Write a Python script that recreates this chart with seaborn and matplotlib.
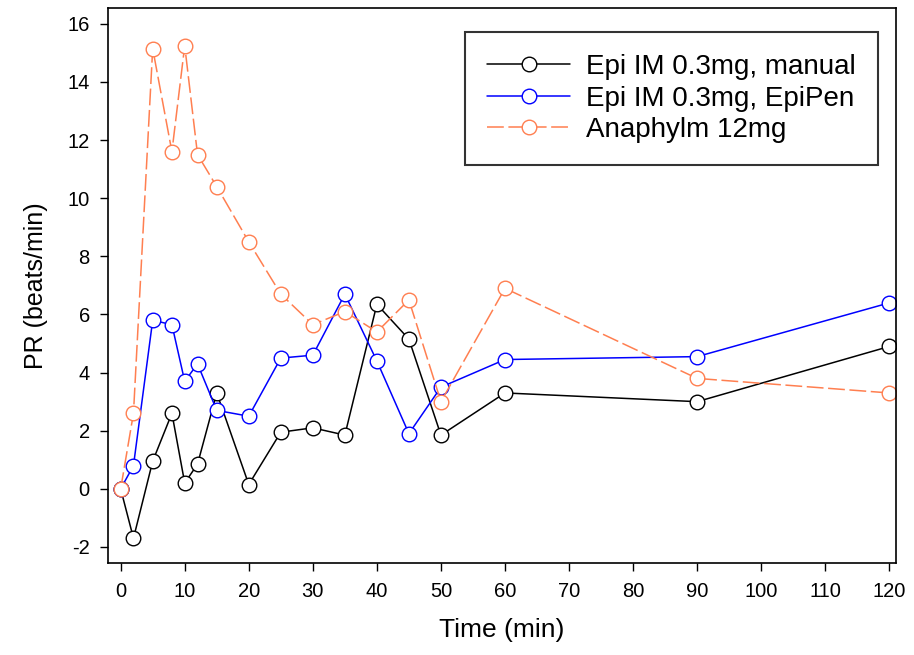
import pandas as pd
import matplotlib.pyplot as plt
import seaborn as sns

time = [0, 2, 5, 8, 10, 12, 15, 20, 25, 30, 35, 40, 45, 50, 60, 90, 120]
manual = [0, -1.7, 0.95, 2.6, 0.2, 0.85, 3.3, 0.15, 1.95, 2.1, 1.85, 6.35, 5.15, 1.85, 3.3, 3.0, 4.9]
epipen = [0, 0.8, 5.8, 5.65, 3.7, 4.3, 2.7, 2.5, 4.5, 4.6, 6.7, 4.4, 1.9, 3.5, 4.45, 4.55, 6.4]
anaphylm = [0, 2.6, 15.15, 11.6, 15.25, 11.5, 10.4, 8.5, 6.7, 5.65, 6.1, 5.4, 6.5, 3.0, 6.9, 3.8, 3.3]

names = ['Epi IM 0.3mg, manual', 'Epi IM 0.3mg, EpiPen', 'Anaphylm 12mg']
colors = ['black', '#0000FF', '#FF7F50']

sns.set_style('white')
plt.rcParams['font.family'] = ['Liberation Sans', 'DejaVu Sans']
plt.rcParams['axes.unicode_minus'] = False
plt.rcParams['text.color'] = 'black'
plt.rcParams['axes.labelcolor'] = 'black'

fig = plt.figure(figsize=(9.14, 6.55), dpi=100)
ax = fig.add_axes([0.118, 0.1405, 0.862, 0.8475])

series = [manual, epipen, anaphylm]
for name, vals, col in zip(names, series, colors):
    df = pd.DataFrame({'Time': time, 'PR': vals})
    dashed = name.startswith('Anaphylm')
    sns.lineplot(data=df, x='Time', y='PR', ax=ax, color=col, label=name,
                 marker='o', markersize=10.5, markerfacecolor='white',
                 markeredgecolor=col, markeredgewidth=1.0, linewidth=1.1,
                 dashes=(11, 3) if dashed else '', sort=False)

ax.set_xlim(-2, 121)
ax.set_ylim(-2.55, 16.55)
ax.set_xticks(range(0, 121, 10))
ax.set_yticks(range(-2, 17, 2))
ax.tick_params(axis='both', direction='out', length=6, width=1, labelsize=14.5,
               bottom=True, left=True, colors='black')
ax.tick_params(axis='y', pad=7)
ax.tick_params(axis='x', pad=8)
for s in ax.spines.values():
    s.set_color('black')
    s.set_linewidth(1.2)

ax.set_xlabel('Time (min)', fontsize=19, labelpad=12, color='black')
ax.set_ylabel('PR (beats/min)', fontsize=18, labelpad=14, color='black')

leg = ax.legend(loc='upper right', bbox_to_anchor=(0.977, 0.957), fontsize=20,
                frameon=True, fancybox=False, edgecolor='black', handlelength=3.0,
                borderpad=0.8, labelspacing=0.2, handletextpad=0.55, borderaxespad=0)
leg.get_frame().set_linewidth(1.5)
for t in leg.get_texts():
    t.set_color('black')

fig.savefig('out.png', dpi=100)
